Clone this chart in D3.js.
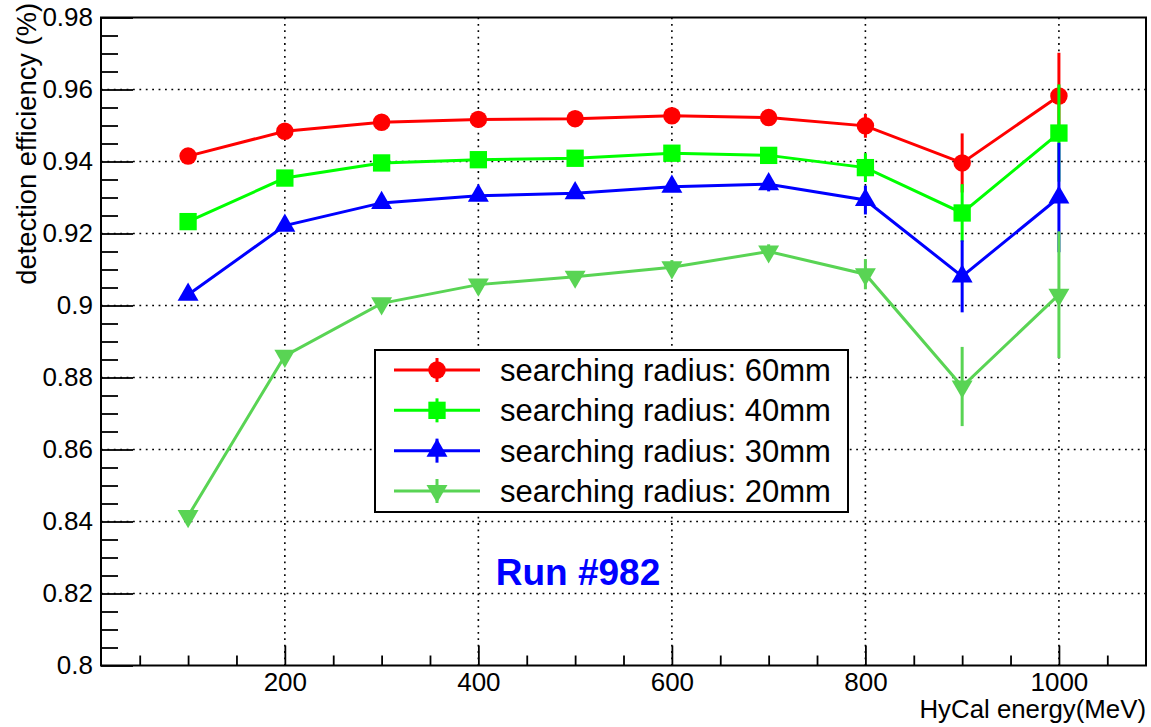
<!DOCTYPE html>
<html>
<head>
<meta charset="utf-8">
<script src="https://cdn.jsdelivr.net/npm/d3@7"></script>
<style>
  body { margin: 0; background: #fff; }
  svg { display: block; font-family: "Liberation Sans", Arial, sans-serif; }
</style>
</head>
<body>
<svg id="chart" width="1151" height="727"></svg>
<script>
// energies (MeV)
var energies = [100, 200, 300, 400, 500, 600, 700, 800, 900, 1000];

// efficiency for each searching radius
var eff60 = [0.9415, 0.9484, 0.9509, 0.9517, 0.9519, 0.9527, 0.9522, 0.9499, 0.9396, 0.9582];
var eff40 = [0.9233, 0.9354, 0.9396, 0.9405, 0.9409, 0.9423, 0.9417, 0.9383, 0.9257, 0.9479];
var eff30 = [0.9030, 0.9222, 0.9285, 0.9305, 0.9312, 0.9330, 0.9337, 0.9293, 0.9081, 0.9300];
var eff20 = [0.8415, 0.8860, 0.9006, 0.9058, 0.9080, 0.9106, 0.9150, 0.9087, 0.8775, 0.9030];

// errors
var err60 = [0.001, 0.001, 0.001, 0.001, 0.001, 0.001, 0.0015, 0.0033, 0.0082, 0.012];
var err40 = [0.001, 0.001, 0.001, 0.001, 0.001, 0.0015, 0.0015, 0.004, 0.008, 0.0135];
var err30 = [0.001, 0.001, 0.001, 0.001, 0.001, 0.0015, 0.002, 0.004, 0.0100, 0.0152];
var err20 = [0.001, 0.001, 0.0012, 0.0015, 0.0015, 0.002, 0.002, 0.0042, 0.011, 0.0176];

var seriesNames = ["searching radius: 60mm", "searching radius: 40mm", "searching radius: 30mm", "searching radius: 20mm"];
var seriesColors = ["#ff0000", "#00ff00", "#0000ff", "#59d454"];
var seriesShapes = ["circle", "square", "triangleUp", "triangleDown"];

var xMajorTicks = [200, 400, 600, 800, 1000];
var yMajorTicks = [0.8, 0.82, 0.84, 0.86, 0.88, 0.9, 0.92, 0.94, 0.96, 0.98];

var series = [
    {name: seriesNames[0], color: seriesColors[0], shape: seriesShapes[0], y: eff60, e: err60},
    {name: seriesNames[1], color: seriesColors[1], shape: seriesShapes[1], y: eff40, e: err40},
    {name: seriesNames[2], color: seriesColors[2], shape: seriesShapes[2], y: eff30, e: err30},
    {name: seriesNames[3], color: seriesColors[3], shape: seriesShapes[3], y: eff20, e: err20}
];

var frame = {left: 101, right: 1146, top: 17.5, bottom: 665.5};

var svg = d3.select("#chart");

var x = d3.scaleLinear().domain([10, 1090]).range([frame.left, frame.right]);
var y = d3.scaleLinear().domain([0.8, 0.98]).range([frame.bottom, frame.top]);

// grid (dotted)
var grid = svg.append("g").attr("class", "grid")
    .attr("stroke", "#000").attr("stroke-width", 1.6).attr("stroke-dasharray", "1.8,4.6");
grid.selectAll("line.gx").data(xMajorTicks).enter().append("line")
    .attr("x1", d => x(d)).attr("x2", d => x(d))
    .attr("y1", frame.top).attr("y2", frame.bottom);
grid.selectAll("line.gy").data(yMajorTicks.slice(1, -1)).enter().append("line")
    .attr("y1", d => y(d)).attr("y2", d => y(d))
    .attr("x1", frame.left).attr("x2", frame.right);

// minor ticks
var xMinor = d3.range(50, 1090, 50).filter(v => xMajorTicks.indexOf(v) < 0);
var yMinor = d3.range(0, 36).map(i => 0.8 + i * 0.005).filter((v, i) => i % 4 !== 0);

svg.append("g")
    .attr("transform", "translate(0," + frame.bottom + ")")
    .call(d3.axisBottom(x).tickValues(xMinor).tickSize(-10).tickFormat(""))
    .call(g => g.select(".domain").remove())
    .selectAll("line").attr("stroke-width", 1.8);

svg.append("g")
    .attr("transform", "translate(" + frame.left + ",0)")
    .call(d3.axisLeft(y).tickValues(yMinor).tickSize(-17).tickFormat(""))
    .call(g => g.select(".domain").remove())
    .selectAll("line").attr("stroke-width", 1.8);

// major ticks + labels
var xAxis = svg.append("g")
    .attr("transform", "translate(0," + frame.bottom + ")")
    .call(d3.axisBottom(x).tickValues(xMajorTicks).tickSize(-20).tickPadding(7).tickFormat(d3.format("d")));
xAxis.select(".domain").remove();
xAxis.selectAll("line").attr("stroke-width", 1.8);
xAxis.selectAll("text").attr("font-size", 26).attr("fill", "#000")
    .attr("font-family", "'Liberation Sans', Arial, sans-serif");

var yAxis = svg.append("g")
    .attr("transform", "translate(" + frame.left + ",0)")
    .call(d3.axisLeft(y).tickValues(yMajorTicks).tickSize(-32).tickPadding(8)
        .tickFormat(d => String(+d.toFixed(2))));
yAxis.select(".domain").remove();
yAxis.selectAll("line").attr("stroke-width", 1.8);
yAxis.selectAll("text").attr("font-size", 26).attr("fill", "#000")
    .attr("font-family", "'Liberation Sans', Arial, sans-serif");

// frame
svg.append("rect")
    .attr("x", frame.left).attr("y", frame.top)
    .attr("width", frame.right - frame.left).attr("height", frame.bottom - frame.top)
    .attr("fill", "none").attr("stroke", "#000").attr("stroke-width", 2);

// axis titles
svg.append("text")
    .attr("x", frame.right).attr("y", 718)
    .attr("text-anchor", "end").attr("font-size", 25.8)
    .text("HyCal energy(MeV)");

svg.append("text")
    .attr("transform", "translate(36,3) rotate(-90)")
    .attr("text-anchor", "end").attr("font-size", 27.3)
    .text("detection efficiency (%)");

// marker helper
function markerPath(shape) {
    if (shape === "circle") return d3.symbol(d3.symbolCircle, 240)();
    if (shape === "square") return d3.symbol(d3.symbolSquare, 300)();
    return d3.symbol(d3.symbolTriangle, 190)();
}
function markerTransform(shape, px, py) {
    if (shape === "triangleDown") return "translate(" + px + "," + py + ") rotate(180)";
    return "translate(" + px + "," + py + ")";
}

var line = d3.line().x(d => x(d.e)).y(d => y(d.v));

series.forEach(s => {
    var pts = energies.map((e, i) => ({e: e, v: s.y[i], err: s.e[i]}));
    var g = svg.append("g").attr("class", "series");
    g.append("path").datum(pts)
        .attr("d", line).attr("fill", "none")
        .attr("stroke", s.color).attr("stroke-width", 3);
    g.selectAll("line.err").data(pts).enter().append("line")
        .attr("x1", d => x(d.e)).attr("x2", d => x(d.e))
        .attr("y1", d => y(d.v + d.err)).attr("y2", d => y(d.v - d.err))
        .attr("stroke", s.color).attr("stroke-width", 3);
    g.selectAll("path.mk").data(pts).enter().append("path")
        .attr("d", markerPath(s.shape))
        .attr("transform", d => markerTransform(s.shape, x(d.e), y(d.v)))
        .attr("fill", s.color);
});

// legend
var legend = svg.append("g");
legend.append("rect")
    .attr("x", 375).attr("y", 350).attr("width", 473).attr("height", 162)
    .attr("fill", "#fff").attr("stroke", "#000").attr("stroke-width", 2);
var rowY = d3.scalePoint().domain(seriesNames).range([370, 491]);
series.forEach(s => {
    var cy = rowY(s.name);
    legend.append("line").attr("x1", 394).attr("x2", 480).attr("y1", cy).attr("y2", cy)
        .attr("stroke", s.color).attr("stroke-width", 3);
    legend.append("line").attr("x1", 437).attr("x2", 437).attr("y1", cy - 12).attr("y2", cy + 12)
        .attr("stroke", s.color).attr("stroke-width", 3);
    legend.append("path").attr("d", markerPath(s.shape))
        .attr("transform", markerTransform(s.shape, 437, cy))
        .attr("fill", s.color);
    legend.append("text").attr("x", 500).attr("y", cy + 11)
        .attr("font-size", 31).text(s.name);
});

// run label
svg.append("text")
    .attr("x", 578).attr("y", 585)
    .attr("text-anchor", "middle").attr("font-size", 37).attr("font-weight", "bold")
    .attr("fill", "#0000ff")
    .text("Run #982");
</script>
</body>
</html>
